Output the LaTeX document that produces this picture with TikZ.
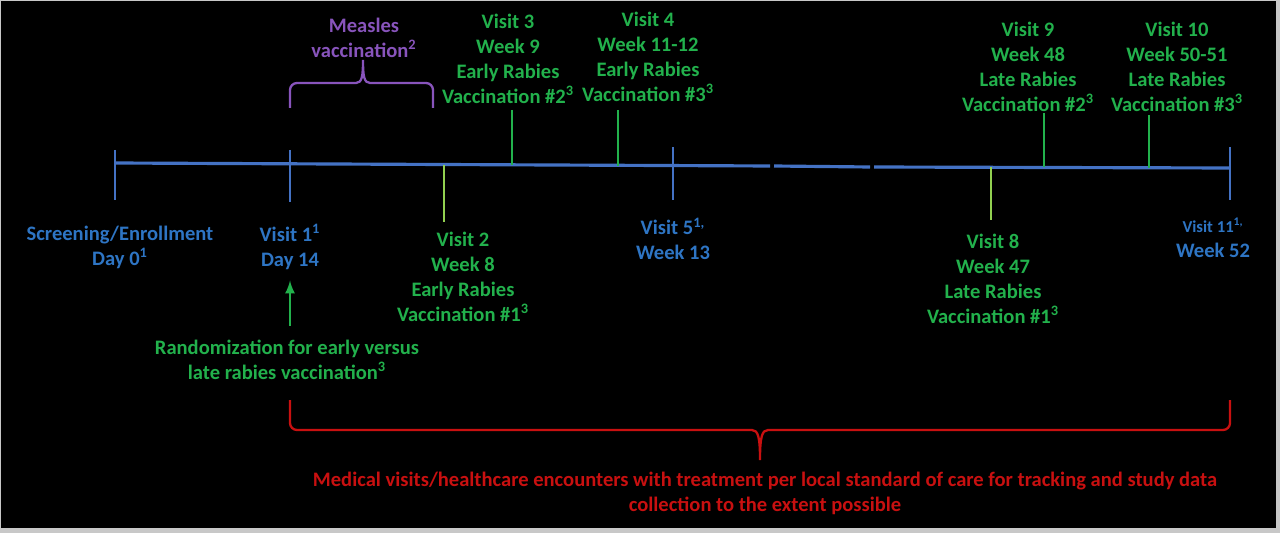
\documentclass[tikz,border=0pt]{standalone}
\usepackage{fontspec}
\setmainfont{Carlito}
\usetikzlibrary{arrows,positioning,calc}
\definecolor{lineblue}{RGB}{68,114,196}
\definecolor{txtblue}{RGB}{46,117,196}
\definecolor{visgreen}{RGB}{34,177,76}
\definecolor{tickgreen}{RGB}{146,208,80}
\definecolor{measpurple}{RGB}{136,84,188}
\definecolor{carered}{RGB}{200,16,16}
\definecolor{edgegray}{RGB}{200,200,200}

\begin{document}
\begin{tikzpicture}[x=0.02cm,y=-0.02cm,
	lbl/.style={align=center,inner sep=0pt,font=\fontsize{11.7}{14.2}\selectfont\bfseries},
	bluelbl/.style={lbl,text=txtblue},
	greenlbl/.style={lbl,text=visgreen},
	axis/.style={lineblue,line width=1.8pt},
	uptick/.style={visgreen,line width=1.6pt},
	downtick/.style={tickgreen,line width=1.6pt},
	bluetick/.style={lineblue,line width=1.6pt}]
	\useasboundingbox (0,0) rectangle (1280,533);
	\fill[edgegray] (0,0) rectangle (1280,533);
	\fill[black] (1,1) rectangle (1276,528);
	\coordinate (d0) at (115,163);
	\coordinate (d14) at (290,164);
	\coordinate (w13) at (673,166);
	\coordinate (w52) at (1230,168);
	\draw[axis] (d0)--(770,166);
	\draw[axis] (774,166)--(870,167);
	\draw[axis] (874,167)--(w52);
	\draw[bluetick] (115,150)--(115,200);
	\draw[bluetick] (290,150)--(290,202);
	\draw[bluetick] (673,147)--(673,200);
	\draw[bluetick] (1230,147)--(1230,200);
	\draw[uptick] (512,110)--(512,165);
	\draw[uptick] (618,110)--(618,166);
	\draw[uptick] (1044,113)--(1044,167);
	\draw[uptick] (1149,115)--(1149,168);
	\draw[downtick] (444,165)--(444,222);
	\draw[downtick] (991,167)--(991,220);
	\node (meas) at (364,38)[lbl,text=measpurple] {Measles\\vaccination\textsuperscript{2}};
	\draw[measpurple,line width=1.3pt] (290,108)--(290,90) arc (180:270:7)--(356,83)
		.. controls (362,83) and (363,76) .. (363,60)
		.. controls (363,76) and (364,83) .. (370,83)--(426,83) arc (270:360:7)--(433,108);
	\node (v3) at (508,59)[greenlbl] {Visit 3\\Week 9\\Early Rabies\\Vaccination \#2\textsuperscript{3}};
	\node (v4) at (648,57)[greenlbl] {Visit 4\\Week 11-12\\Early Rabies\\Vaccination \#3\textsuperscript{3}};
	\node (v9) at (1028,67)[greenlbl] {Visit 9\\Week 48\\Late Rabies\\Vaccination \#2\textsuperscript{3}};
	\node (v10) at (1177,67)[greenlbl] {Visit 10\\Week 50-51\\Late Rabies\\Vaccination \#3\textsuperscript{3}};
	\node (scr) at (120,247)[bluelbl] {Screening/Enrollment\\Day 0\textsuperscript{1}};
	\node (v1) at (290,247)[bluelbl] {Visit 1\textsuperscript{1}\\Day 14};
	\node (v2) at (463,277)[greenlbl] {Visit 2\\Week 8\\Early Rabies\\Vaccination \#1\textsuperscript{3}};
	\node (v5) at (673,239)[bluelbl] {Visit 5\textsuperscript{1,}\\Week 13};
	\node (v8) at (993,279)[greenlbl] {Visit 8\\Week 47\\Late Rabies\\Vaccination \#1\textsuperscript{3}};
	\node (v11) at (1213,238)[bluelbl] {{\fontsize{9.5}{10}\selectfont Visit 11\textsuperscript{1,}}\\Week 52};
	\node (rand) at (287,360)[greenlbl] {Randomization for early versus\\late rabies vaccination\textsuperscript{3}};
	\draw[visgreen,line width=1.5pt,-latex,shorten <=8pt,shorten >=6pt] (rand.north-|v1)--(v1.south);
	\draw[carered,line width=1.3pt] (290,400)--(290,423) arc (180:90:7)--(752,430)
		.. controls (758,430) and (760,437) .. (760,460)
		.. controls (760,437) and (762,430) .. (768,430)--(1223,430) arc (90:0:7)--(1230,400);
	\node (care) at (765,493)[lbl,text=carered] {Medical visits/healthcare encounters with treatment per local standard of care for tracking and study data\\collection to the extent possible};
\end{tikzpicture}
\end{document}
